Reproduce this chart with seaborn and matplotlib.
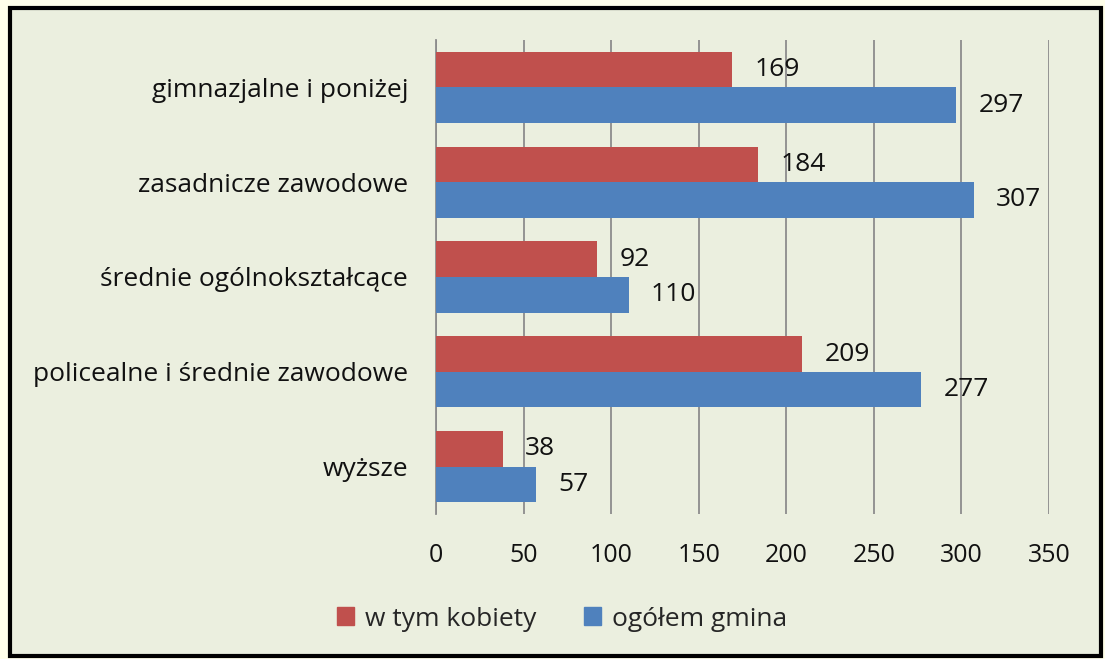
import matplotlib
matplotlib.use("Agg")
import matplotlib.pyplot as plt
import matplotlib.patches as mpatches
import pandas as pd
import seaborn as sns

# education level of unemployed
categories = ['gimnazjalne i poniżej', 'zasadnicze zawodowe', 'średnie ogólnokształcące',
              'policealne i średnie zawodowe', 'wyższe']
women = [169, 184, 92, 209, 38]
total = [297, 307, 110, 277, 57]
series = ['w tym kobiety', 'ogółem gmina']
colors = ['#C0504D', '#4F81BD']

df = pd.DataFrame({
    'cat': categories * 2,
    'val': women + total,
    'series': [series[0]] * len(categories) + [series[1]] * len(categories),
})

sns.set_style('white')
plt.rcParams['font.family'] = ['Open Sans', 'DejaVu Sans']
fs = 19

fig = plt.figure(figsize=(11.05, 6.59), dpi=100)
fig.patch.set_facecolor('#FFFFEA')
inner = '#EBEFDF'
# chart frame
fig.patches.append(mpatches.Rectangle((9.5 / 1105, 1 - 656 / 659), (1101 - 9.5) / 1105, (656 - 7.5) / 659,
                                      transform=fig.transFigure, facecolor=inner, edgecolor='black',
                                      linewidth=3, zorder=-5))

ax = fig.add_axes([436 / 1105, 1 - 514 / 659, (1049 - 436) / 1105, (514 - 40) / 659])
ax.patch.set_alpha(0)

sns.barplot(data=df, y='cat', x='val', hue='series', hue_order=series, palette=colors,
            order=categories, orient='h', width=0.75, gap=0, saturation=1, ax=ax, legend=False,
            linewidth=0, zorder=3)

ax.set_xlim(0, 350)
ax.set_xticks(range(0, 351, 50))
ax.grid(axis='x', color='#8C8C8C', linewidth=1.3, zorder=0)
ax.set_axisbelow(True)
for s in ['top', 'right', 'bottom']:
    ax.spines[s].set_visible(False)
ax.spines['left'].set_color('#8C8C8C')
ax.spines['left'].set_linewidth(1.3)
ax.set_xlabel('')
ax.set_ylabel('')
ax.tick_params(axis='x', length=0, pad=21, labelsize=fs - 1, labelcolor='#111111')
ax.tick_params(axis='y', length=0, pad=20, labelsize=fs, labelcolor='#111111')

for cont in ax.containers:
    ax.bar_label(cont, padding=16, fontsize=fs, color='#111111')

handles = [mpatches.Patch(color=c, label=s) for c, s in zip(colors, series)]
fig.legend(handles=handles, loc='center', bbox_to_anchor=(562 / 1105, 1 - 619 / 659), ncol=2,
           frameon=False, fontsize=fs, handlelength=0.65, handleheight=0.65, handletextpad=0.4,
           columnspacing=1.8)

fig.savefig('out.png', dpi=100, facecolor=fig.get_facecolor())
